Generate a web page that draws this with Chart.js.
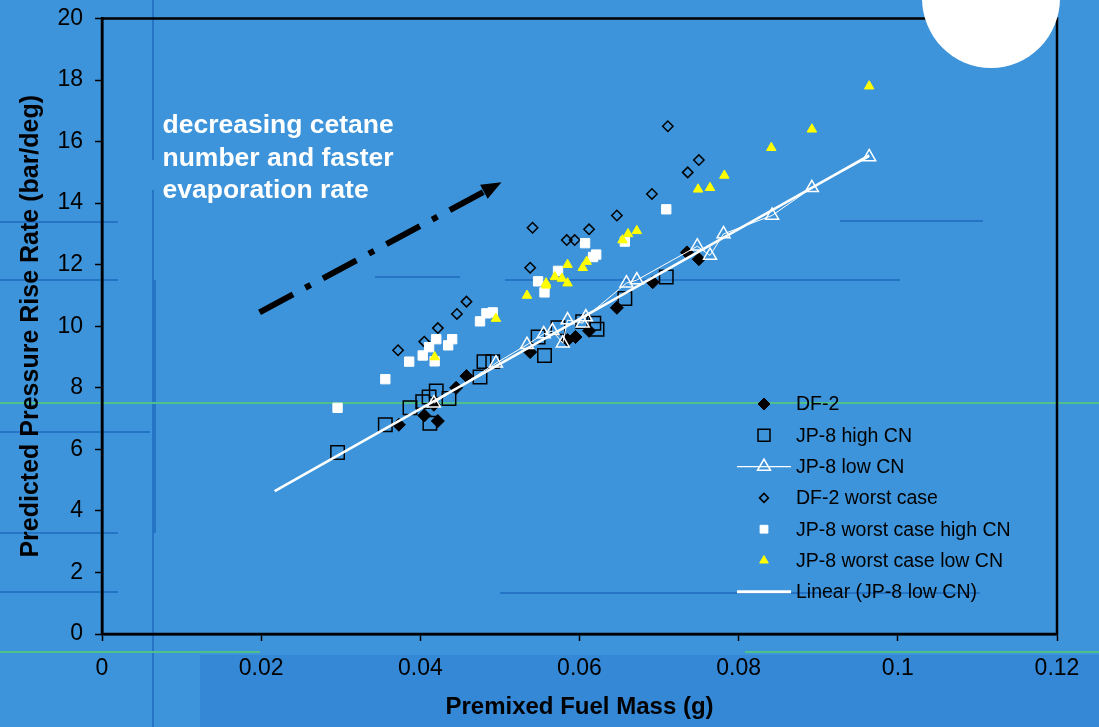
<!DOCTYPE html>
<html>
<head>
<meta charset="utf-8">
<script src="https://cdn.jsdelivr.net/npm/chart.js@4/dist/chart.umd.min.js"></script>
<style>
  body { margin: 0; background: #3d94da; }
  canvas { display: block; }
</style>
</head>
<body>
<canvas id="myChart" width="1099" height="727"></canvas>
<script>
// values
const df2X = [0.0373, 0.0405, 0.0417, 0.0422, 0.0445, 0.0458, 0.0538, 0.0585, 0.0595, 0.0612, 0.0647, 0.0692, 0.0735, 0.0750]
const df2Y = [6.8, 7.1, 7.45, 6.92, 8.0, 8.38, 9.16, 9.55, 9.65, 9.85, 10.6, 11.43, 12.4, 12.18]

const jpHighX = [0.0296, 0.0356, 0.0387, 0.0403, 0.0412, 0.0411, 0.0420, 0.0436, 0.0475, 0.0480, 0.0491, 0.0548, 0.0556, 0.0573, 0.0604, 0.0618, 0.0622, 0.0657, 0.0709]
const jpHighY = [5.9, 6.8, 7.35, 7.55, 6.85, 7.7, 7.9, 7.65, 8.35, 8.85, 8.85, 9.65, 9.05, 9.95, 10.15, 10.1, 9.9, 10.9, 11.6]

const jpLowX = [0.0417, 0.0495, 0.0534, 0.0555, 0.0566, 0.0579, 0.0585, 0.0604, 0.0608, 0.0659, 0.0672, 0.0748, 0.0764, 0.0781, 0.0842, 0.0892, 0.0964]
const jpLowY = [7.5, 8.8, 9.4, 9.75, 9.85, 9.45, 10.2, 10.1, 10.3, 11.4, 11.5, 12.6, 12.3, 13.0, 13.6, 14.5, 15.5]

const df2WorstX = [0.0372, 0.0405, 0.0422, 0.0446, 0.0458, 0.0538, 0.0541, 0.0584, 0.0594, 0.0612, 0.0647, 0.0691, 0.0711, 0.0736, 0.0750]
const df2WorstY = [9.22, 9.5, 9.94, 10.4, 10.8, 11.9, 13.2, 12.8, 12.8, 13.15, 13.6, 14.3, 16.5, 15.0, 15.4]

const jpWorstHighX = [0.0296, 0.0356, 0.0386, 0.0403, 0.0411, 0.0418, 0.0420, 0.0435, 0.0440, 0.0475, 0.0483, 0.0491, 0.0548, 0.0556, 0.0573, 0.0607, 0.0617, 0.0621, 0.0657, 0.0709]
const jpWorstHighY = [7.35, 8.28, 8.85, 9.05, 9.32, 8.86, 9.58, 9.38, 9.58, 10.16, 10.42, 10.45, 11.46, 11.1, 11.8, 12.7, 12.25, 12.33, 12.75, 13.8]

const jpWorstLowX = [0.0418, 0.0495, 0.0534, 0.0558, 0.0569, 0.0558, 0.0578, 0.0585, 0.0585, 0.0604, 0.0609, 0.0654, 0.0661, 0.0672, 0.0749, 0.0764, 0.0782, 0.0841, 0.0892, 0.0964]
const jpWorstLowY = [9.0, 10.25, 11.0, 11.33, 11.6, 11.4, 11.55, 11.4, 12.0, 11.9, 12.1, 12.8, 13.0, 13.1, 14.45, 14.5, 14.9, 15.8, 16.4, 17.8]

// trendline ends (Linear (JP-8 low CN))
const trendX = [0.0217, 0.0964]
const trendY = [4.64, 15.55]

// arrow and note, in data units
const arrowX = [0.0198, 0.0502]
const arrowY = [10.45, 14.68]
const noteLines = ["decreasing cetane", "number and faster", "evaporation rate"]
const noteX = 0.0076
const noteY = 16.27

const xTicks = [0, 0.02, 0.04, 0.06, 0.08, 0.1, 0.12]
const yTicks = [0, 2, 4, 6, 8, 10, 12, 14, 16, 18, 20]

const FONT = "'Liberation Sans', Arial, sans-serif"

function pts(xs, ys) {
    return xs.map((x, i) => ({ x: x, y: ys[i] }))
}

const legendItems = [
    { text: "DF-2", style: "rectRot", r: 6, fill: "#000", stroke: "#000", bw: 1 },
    { text: "JP-8 high CN", style: "rect", r: 8.5, fill: "rgba(0,0,0,0)", stroke: "#000", bw: 1.5 },
    { text: "JP-8 low CN", style: "triangle", r: 7.5, fill: "rgba(0,0,0,0)", stroke: "#fff", bw: 1.5, line: 1.2 },
    { text: "DF-2 worst case", style: "rectRot", r: 4.5, fill: "rgba(0,0,0,0)", stroke: "#000", bw: 1.5 },
    { text: "JP-8 worst case high CN", style: "rect", r: 5.5, fill: "#fff", stroke: "#fff", bw: 1 },
    { text: "JP-8 worst case low CN", style: "triangle", r: 5, fill: "#ffff00", stroke: "#ffff00", bw: 1 },
    { text: "Linear (JP-8 low CN)", style: false, line: 3 }
]

const backdrop = {
    id: "backdrop",
    beforeDraw(chart) {
        const ctx = chart.ctx
        ctx.save()
        ctx.fillStyle = "#3d94da"
        ctx.fillRect(0, 0, chart.width, chart.height)
        ctx.fillStyle = "#3488d6"
        ctx.fillRect(200, 655, chart.width - 200, chart.height - 655)
        // faint template lines of the slide
        ctx.strokeStyle = "rgba(20,90,180,0.55)"
        ctx.lineWidth = 2
        const segs = [[153, 0, 153, 160], [153, 190, 153, 727], [0, 222, 118, 222], [0, 280, 118, 280],
            [0, 432, 150, 432], [0, 533, 118, 533], [0, 592, 118, 592], [375, 277, 460, 277],
            [505, 280, 900, 280], [840, 221, 983, 221], [500, 593, 980, 593], [155, 280, 155, 533]]
        segs.forEach(s => {
            ctx.beginPath()
            ctx.moveTo(s[0], s[1])
            ctx.lineTo(s[2], s[3])
            ctx.stroke()
        })
        ctx.strokeStyle = "#4fbf8c"
        ctx.lineWidth = 2
        ctx.beginPath()
        ctx.moveTo(0, 403)
        ctx.lineTo(chart.width, 403)
        ctx.moveTo(0, 652)
        ctx.lineTo(260, 652)
        ctx.moveTo(745, 652)
        ctx.lineTo(chart.width, 652)
        ctx.stroke()
        ctx.restore()
    },
    beforeDatasetsDraw(chart) {
        const a = chart.chartArea
        const ctx = chart.ctx
        ctx.save()
        ctx.strokeStyle = "#000"
        ctx.lineWidth = 2.5
        ctx.strokeRect(a.left, a.top, a.right - a.left, a.bottom - a.top)
        ctx.restore()
    },
    afterDraw(chart) {
        const ctx = chart.ctx
        const xs = chart.scales.x
        const ys = chart.scales.y

        // dash-dot arrow
        const x0 = xs.getPixelForValue(arrowX[0]), y0 = ys.getPixelForValue(arrowY[0])
        const x1 = xs.getPixelForValue(arrowX[1]), y1 = ys.getPixelForValue(arrowY[1])
        const ang = Math.atan2(y1 - y0, x1 - x0)
        const head = 20
        ctx.save()
        ctx.strokeStyle = "#000"
        ctx.lineWidth = 6
        ctx.setLineDash([38, 14, 6, 14])
        ctx.beginPath()
        ctx.moveTo(x0, y0)
        ctx.lineTo(x1 - head * Math.cos(ang), y1 - head * Math.sin(ang))
        ctx.stroke()
        ctx.setLineDash([])
        ctx.fillStyle = "#000"
        ctx.beginPath()
        ctx.moveTo(x1, y1)
        ctx.lineTo(x1 - head * Math.cos(ang) + 8 * Math.sin(ang), y1 - head * Math.sin(ang) - 8 * Math.cos(ang))
        ctx.lineTo(x1 - head * Math.cos(ang) - 8 * Math.sin(ang), y1 - head * Math.sin(ang) + 8 * Math.cos(ang))
        ctx.closePath()
        ctx.fill()

        // note
        ctx.fillStyle = "#fff"
        ctx.font = "bold 26.5px " + FONT
        ctx.textBaseline = "alphabetic"
        ctx.textAlign = "left"
        const nx = xs.getPixelForValue(noteX)
        const ny = ys.getPixelForValue(noteY)
        noteLines.forEach((t, i) => ctx.fillText(t, nx, ny + i * 32.5))

        // legend inside the plot
        const mx = 764, tx = 796, top = 404, step = 31.3
        ctx.font = "19.5px " + FONT
        ctx.textBaseline = "middle"
        legendItems.forEach((it, i) => {
            const y = top + i * step
            if (it.line) {
                ctx.strokeStyle = "#fff"
                ctx.lineWidth = it.line
                ctx.beginPath()
                ctx.moveTo(737, y)
                ctx.lineTo(791, y)
                ctx.stroke()
            }
            if (it.style) {
                ctx.fillStyle = it.fill
                ctx.strokeStyle = it.stroke
                ctx.lineWidth = it.bw
                Chart.helpers.drawPoint(ctx, { pointStyle: it.style, radius: it.r, rotation: 0, borderWidth: it.bw }, mx, y)
            }
            ctx.fillStyle = "#000"
            ctx.fillText(it.text, tx, y + 1)
        })

        // white disc of the slide template
        ctx.fillStyle = "#fff"
        ctx.beginPath()
        ctx.ellipse(991, -2, 69, 70, 0, 0, Math.PI * 2)
        ctx.fill()
        ctx.restore()
    }
}

function main() {
    const ctx = document.getElementById("myChart")

    new Chart(ctx, {
        type: "scatter",
        data: {
            datasets: [
                {
                    label: "DF-2",
                    data: pts(df2X, df2Y),
                    pointStyle: "rectRot",
                    pointRadius: 6.5,
                    backgroundColor: "#000",
                    borderColor: "#000",
                    pointBorderWidth: 1,
                    order: 7,
                },
                {
                    label: "JP-8 high CN",
                    data: pts(jpHighX, jpHighY),
                    pointStyle: "rect",
                    pointRadius: 9.5,
                    backgroundColor: "rgba(0,0,0,0)",
                    borderColor: "#000",
                    pointBorderWidth: 1.5,
                    order: 6,
                },
                {
                    label: "JP-8 low CN",
                    data: pts(jpLowX, jpLowY),
                    pointStyle: "triangle",
                    pointRadius: 7.5,
                    backgroundColor: "rgba(0,0,0,0)",
                    borderColor: "#fff",
                    pointBorderWidth: 1.5,
                    showLine: true,
                    borderWidth: 1,
                    order: 5,
                },
                {
                    label: "DF-2 worst case",
                    data: pts(df2WorstX, df2WorstY),
                    pointStyle: "rectRot",
                    pointRadius: 5.2,
                    backgroundColor: "rgba(0,0,0,0)",
                    borderColor: "#000",
                    pointBorderWidth: 1.5,
                    order: 4,
                },
                {
                    label: "JP-8 worst case high CN",
                    data: pts(jpWorstHighX, jpWorstHighY),
                    pointStyle: "rect",
                    pointRadius: 6.6,
                    backgroundColor: "#fff",
                    borderColor: "#fff",
                    pointBorderWidth: 1,
                    order: 3,
                },
                {
                    label: "JP-8 worst case low CN",
                    data: pts(jpWorstLowX, jpWorstLowY),
                    pointStyle: "triangle",
                    pointRadius: 5.5,
                    backgroundColor: "#ffff00",
                    borderColor: "#ffff00",
                    pointBorderWidth: 1,
                    order: 2,
                },
                {
                    label: "Linear (JP-8 low CN)",
                    data: pts(trendX, trendY),
                    showLine: true,
                    pointRadius: 0,
                    borderColor: "#fff",
                    borderWidth: 2.5,
                    order: 1,
                },
            ],
        },
        options: {
            responsive: false,
            animation: false,
            devicePixelRatio: 1,
            layout: { padding: { top: 18.5, right: 42, left: 0, bottom: 0 } },
            plugins: {
                legend: { display: false },
                tooltip: { enabled: false },
            },
            scales: {
                x: {
                    type: "linear",
                    min: 0,
                    max: 0.12,
                    afterBuildTicks: s => { s.ticks = xTicks.map(v => ({ value: v })) },
                    afterFit: s => { s.height = 93; s.paddingLeft = 0; s.paddingRight = 0 },
                    ticks: {
                        color: "#000",
                        font: { family: FONT, size: 23 },
                        padding: 14,
                        maxRotation: 0,
                        callback: v => String(Number(v.toFixed(2))),
                    },
                    grid: { drawOnChartArea: false, tickLength: 7, tickColor: "#000", tickWidth: 1.5 },
                    border: { color: "#000", width: 2.5 },
                    title: {
                        display: true,
                        text: "Premixed Fuel Mass (g)",
                        color: "#000",
                        font: { family: FONT, size: 24, weight: "bold" },
                        padding: { top: 0, bottom: 5 },
                    },
                },
                y: {
                    type: "linear",
                    min: 0,
                    max: 20,
                    afterBuildTicks: s => { s.ticks = yTicks.map(v => ({ value: v })) },
                    afterFit: s => { s.width = 102; s.paddingTop = 0; s.paddingBottom = 0 },
                    ticks: {
                        color: "#000",
                        font: { family: FONT, size: 23 },
                        padding: 12,
                    },
                    grid: { drawOnChartArea: false, tickLength: 7, tickColor: "#000", tickWidth: 1.5 },
                    border: { color: "#000", width: 2.5 },
                    title: {
                        display: true,
                        text: "Predicted Pressure Rise Rate (bar/deg)",
                        color: "#000",
                        font: { family: FONT, size: 25, weight: "bold" },
                        padding: { top: 16, bottom: 0 },
                    },
                },
            },
        },
        plugins: [backdrop],
    })
}

document.addEventListener("DOMContentLoaded", main)
</script>
</body>
</html>
